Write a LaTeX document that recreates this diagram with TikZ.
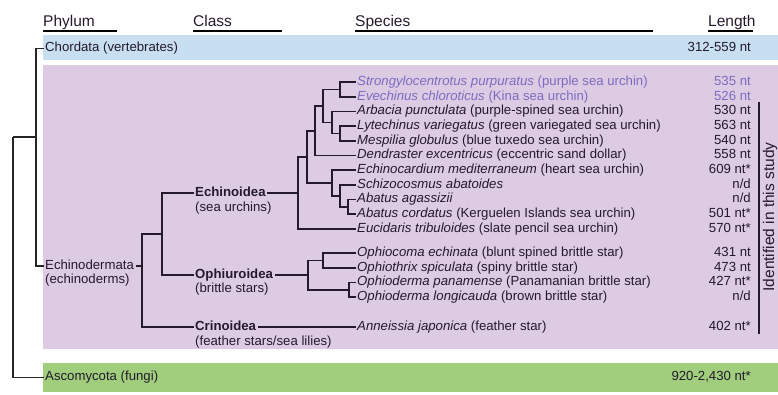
\documentclass[tikz,border=0pt]{standalone}
\usepackage{fontspec}
\setmainfont{Liberation Sans}
\usepackage{tikz}
\definecolor{bandblue}{RGB}{199,223,241}
\definecolor{bandpurple}{RGB}{221,203,228}
\definecolor{bandgreen}{RGB}{160,206,124}
\definecolor{urchin}{RGB}{124,108,192}
\definecolor{ink}{RGB}{36,26,44}
\newcommand{\bodysize}{\fontsize{13.2}{14}\selectfont}
\newcommand{\headsize}{\fontsize{15.5}{17}\selectfont}

\begin{document}
\begin{tikzpicture}[x=1pt,y=-1pt,
    txt/.style={anchor=west,inner xsep=1.5pt,inner ysep=0pt,text height=9.5pt,text depth=2.8pt,text=ink,font=\bodysize},
    len/.style={anchor=east,inner sep=0pt,text height=9.5pt,text depth=2.8pt,text=ink,font=\bodysize},
    head/.style={anchor=base west,inner sep=0pt,text=ink,font=\headsize},
    branch/.style={draw=ink,line width=1.7pt},
    phyl/.style={draw=black!85,line width=1.3pt}]
        \useasboundingbox (0,0) rectangle (778,394);
        \fill[bandblue] (43,35) rectangle (778,60);
        \fill[bandpurple] (43,65) rectangle (778,349);
        \fill[bandgreen] (43,363) rectangle (778,392);

        \node[head] (phylum) at (43,26) {Phylum};
        \node[head] (class) at (193,26) {Class};
        \node[head] (species) at (355,26) {Species};
        \node[head] (length) at (708,26) {Length};
        \draw[line width=1.4pt] ([yshift=-5pt]phylum.base west) -- +(74,0);
        \draw[line width=1.4pt] ([yshift=-5pt]class.base west) -- +(89,0);
        \draw[line width=1.4pt] ([yshift=-5pt]species.base west) -- +(298,0);
        \draw[line width=1.4pt] ([yshift=-5pt]length.base west) -- +(45,0);

        \node[txt] (chordata) at (43.5,48.5) {Chordata (vertebrates)};
        \node[txt] (echinodermata) at (43.5,266) {Echinodermata};
        \node[txt] at (43.5,280.5) {(echinoderms)};
        \node[txt] (ascomycota) at (43.5,377.5) {Ascomycota (fungi)};
        \node[len] (lchordata) at (751,48.5) {312-559 nt};
        \node[len] (lascomycota) at (751,377.5) {920-2,430 nt*};

        \node[txt,font=\bodysize\bfseries] (echinoidea) at (193.5,192.94) {Echinoidea};
        \node[txt] at (193.5,208) {(sea urchins)};
        \node[txt,font=\bodysize\bfseries] (ophiuroidea) at (193.5,275.05) {Ophiuroidea};
        \node[txt] at (193.5,289.5) {(brittle stars)};
        \node[txt,font=\bodysize\bfseries] (crinoidea) at (193.5,327) {Crinoidea};
        \node[txt] at (193.5,342) {(feather stars/sea lilies)};

        \node[txt,text=urchin] (spur) at (355.5,82) {\textit{Strongylocentrotus purpuratus} (purple sea urchin)};
        \node[txt,text=urchin] (evech) at (355.5,96.7) {\textit{Evechinus chloroticus} (Kina sea urchin)};
        \node[txt] (arb) at (355.5,111.4) {\textit{Arbacia punctulata} (purple-spined sea urchin)};
        \node[txt] (lyt) at (355.5,126.1) {\textit{Lytechinus variegatus} (green variegated sea urchin)};
        \node[txt] (mes) at (355.5,140.8) {\textit{Mespilia globulus} (blue tuxedo sea urchin)};
        \node[txt] (den) at (355.5,155.5) {\textit{Dendraster excentricus} (eccentric sand dollar)};
        \node[txt] (card) at (355.5,170.2) {\textit{Echinocardium mediterraneum} (heart sea urchin)};
        \node[txt] (schizo) at (355.5,184.9) {\textit{Schizocosmus abatoides}};
        \node[txt] (agas) at (355.5,199.6) {\textit{Abatus agassizii}};
        \node[txt] (cord) at (355.5,214.3) {\textit{Abatus cordatus} (Kerguelen Islands sea urchin)};
        \node[txt] (euc) at (355.5,229) {\textit{Eucidaris tribuloides} (slate pencil sea urchin)};
        \node[txt] (ophc) at (355.5,253) {\textit{Ophiocoma echinata} (blunt spined brittle star)};
        \node[txt] (ophs) at (355.5,267.7) {\textit{Ophiothrix spiculata} (spiny brittle star)};
        \node[txt] (ophp) at (355.5,282.4) {\textit{Ophioderma panamense} (Panamanian brittle star)};
        \node[txt] (ophl) at (355.5,297.1) {\textit{Ophioderma longicauda} (brown brittle star)};
        \node[txt] (anne) at (355.5,327) {\textit{Anneissia japonica} (feather star)};

        \node[len,text=urchin] at (751,82) {535 nt};
        \node[len,text=urchin] at (751,96.7) {526 nt};
        \node[len] at (751,111.4) {530 nt};
        \node[len] at (751,126.1) {563 nt};
        \node[len] at (751,140.8) {540 nt};
        \node[len] at (751,155.5) {558 nt};
        \node[len] at (751,170.2) {609 nt*};
        \node[len] at (751,184.9) {n/d};
        \node[len] at (751,199.6) {n/d};
        \node[len] at (751,214.3) {501 nt*};
        \node[len] at (751,229) {570 nt*};
        \node[len] at (751,253) {431 nt};
        \node[len] at (751,267.7) {473 nt};
        \node[len] at (751,282.4) {427 nt*};
        \node[len] at (751,297.1) {n/d};
        \node[len] at (751,327) {402 nt*};

        \coordinate (studytop) at (759,102);
        \coordinate (studybot) at (759,334);
        \draw[line width=1.2pt,draw=ink] (studytop) -- (studybot);
        \node[rotate=90,inner sep=0pt,text=ink,font=\fontsize{15.5}{16}\selectfont] (study) at (770,217) {Identified in this study};

        \coordinate (nse) at (340,89.35);
        \coordinate (nlm) at (340,133.45);
        \coordinate (nalm) at (332,122.43);
        \coordinate (ntop) at (323,105.89);
        \coordinate (nden) at (315,130.7);
        \coordinate (nab) at (348,206.95);
        \coordinate (nsab) at (340,195.93);
        \coordinate (ncard) at (332,183.06);
        \coordinate (nechi) at (307,156.88);
        \coordinate (necroot) at (298,192.94);
        \draw[branch] (nse) |- (spur.west);
        \draw[branch] (nse) |- (evech.west);
        \draw[branch] (nlm) |- (lyt.west);
        \draw[branch] (nlm) |- (mes.west);
        \draw[branch] (nalm) |- (arb.west);
        \draw[branch] (nalm) |- (nlm);
        \draw[branch] (ntop) |- (nse);
        \draw[branch] (ntop) |- (nalm);
        \draw[branch] (nden) |- (ntop);
        \draw[branch] (nden) |- (den.west);
        \draw[branch] (nab) |- (agas.west);
        \draw[branch] (nab) |- (cord.west);
        \draw[branch] (nsab) |- (schizo.west);
        \draw[branch] (nsab) |- (nab);
        \draw[branch] (ncard) |- (card.west);
        \draw[branch] (ncard) |- (nsab);
        \draw[branch] (nechi) |- (nden);
        \draw[branch] (nechi) |- (ncard);
        \draw[branch] (necroot) |- (nechi);
        \draw[branch] (necroot) |- (euc.west);
        \draw[branch] (echinoidea.east) -- (necroot);

        \coordinate (noo) at (323,260.35);
        \coordinate (nod) at (349,289.75);
        \coordinate (nophroot) at (308,275.05);
        \draw[branch] (noo) |- (ophc.west);
        \draw[branch] (noo) |- (ophs.west);
        \draw[branch] (nod) |- (ophp.west);
        \draw[branch] (nod) |- (ophl.west);
        \draw[branch] (nophroot) |- (noo);
        \draw[branch] (nophroot) |- (nod);
        \draw[branch] (ophiuroidea.east) -- (nophroot);
        \draw[branch] (crinoidea.east) -- (anne.west);

        \coordinate (neo) at (162,234);
        \coordinate (nechd) at (142,266);
        \draw[branch] (neo) |- (echinoidea.west);
        \draw[branch] (neo) |- (ophiuroidea.west);
        \draw[branch] (nechd) |- (neo);
        \draw[branch] (nechd) |- (crinoidea.west);
        \draw[branch] (echinodermata.east) -- (nechd);

        \coordinate (ncore) at (36,137);
        \coordinate (nroot) at (13,137);
        \draw[phyl] (ncore) |- (chordata.west);
        \draw[phyl] (ncore) |- (echinodermata.west);
        \draw[phyl] (nroot) -- (ncore);
        \draw[phyl] (nroot) |- (ascomycota.west);
    \end{tikzpicture}
\end{document}
